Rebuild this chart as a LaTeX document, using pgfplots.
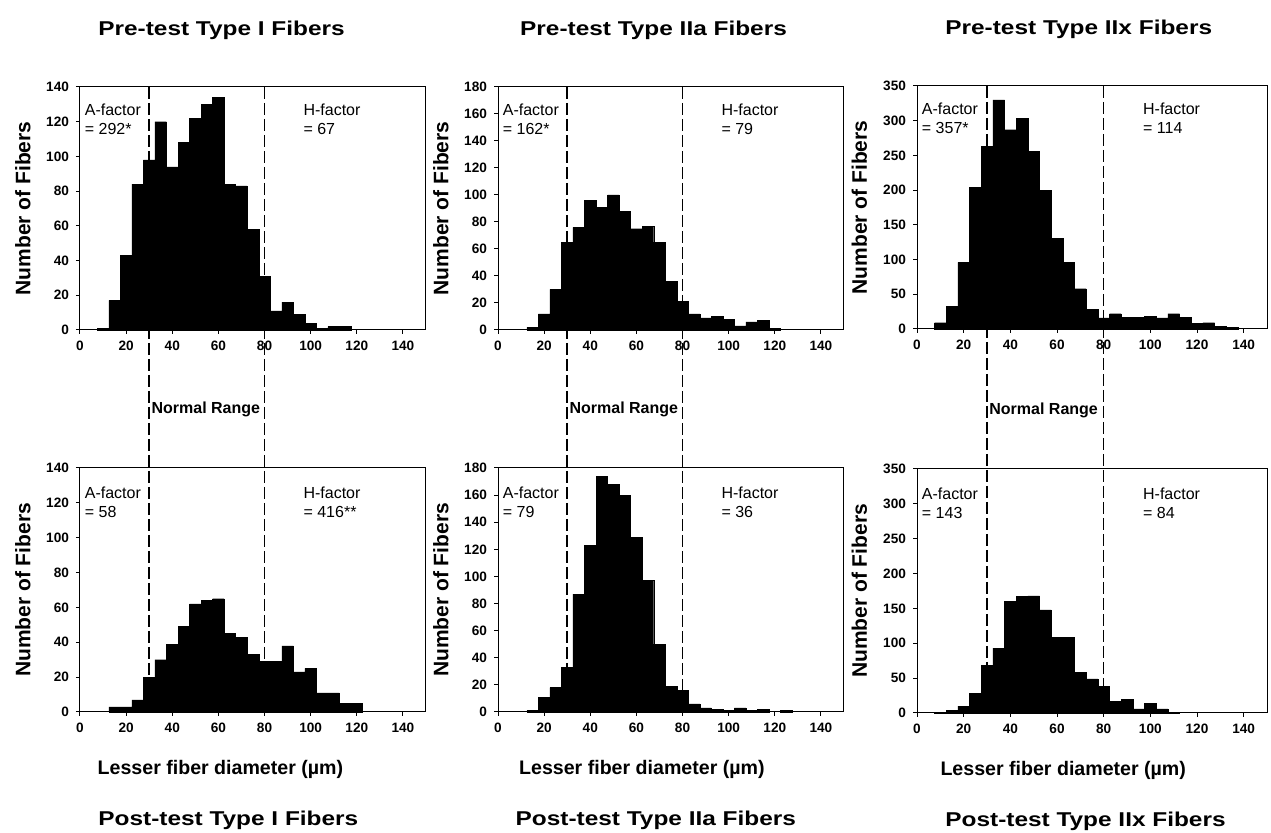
\documentclass[border=0pt]{standalone}
\usepackage{fontspec}
\setmainfont{Liberation Sans}
\newfontfamily\wide[FakeStretch=1.22]{Liberation Sans}
\usepackage{pgfplots}
\pgfplotsset{compat=1.18}

\pgfplotsset{
  hist/.style={
    scale only axis, width=173pt, height=121.5pt,
    xmin=0, xmax=150, ymin=0,
    xtick={0,20,...,140},
    tick align=outside, major tick length=2pt, tick pos=left,
    axis line style={line width=0.5pt},
    tick style={black, line width=0.5pt},
    ticklabel style={font=\fontsize{6.8}{8}\selectfont\bfseries},
    /pgf/number format/assume math mode=true,
    clip=false,
    every axis y label/.style={at={(axis description cs:-0.165,0.5)}, rotate=90, anchor=center,
      font=\fontsize{10.5}{12}\selectfont\bfseries},
  },
  bars/.style={ybar, bar width=5, fill=black, draw=black, line width=0.2pt},
}
\tikzset{
  nr/.style={dash pattern=on 6pt off 2pt, line width=0.8pt},
  ann/.style={anchor=north west, inner sep=0pt, align=left, font=\fontsize{8}{9.5}\selectfont},
  ttl/.style={anchor=west, inner sep=0pt, font=\wide\fontsize{10}{12}\selectfont\bfseries},
  xl/.style={anchor=west, inner sep=0pt, font=\fontsize{9.8}{11}\selectfont\bfseries},
  rng/.style={anchor=west, inner sep=1pt, font=\fontsize{8}{9}\selectfont\bfseries},
}

\begin{document}
\begin{tikzpicture}
\path[use as bounding box] (0,0) rectangle (635.5pt,416.5pt);

% ---- pre-test row (the dashed normal-range lines run down through the post-test row)
\begin{axis}[hist, at={(40pt,251.5pt)}, anchor=south west, ymax=140, ytick={0,20,...,140},
  ylabel={Number of Fibers}]
  \draw[nr] (rel axis cs:0.2,1) -- (rel axis cs:0.2,-1.572);
  \draw[nr] (rel axis cs:0.5333,1) -- (rel axis cs:0.5333,-1.572);
  \addplot[bars] coordinates {(10,1)(15,17)(20,43)(25,84)(30,98)(35,120)(40,94)(45,108)(50,122)
    (55,130)(60,134)(65,84)(70,83)(75,58)(80,31)(85,11)(90,16)(95,9)(100,4)(105,1)(110,2)(115,2)};
  \node[ann] at (rel axis cs:0.013,0.93) {A-factor\\= 292*};
  \node[ann] at (rel axis cs:0.645,0.93) {H-factor\\= 67};
  \node[ttl] at (rel axis cs:0.052,1.235) {Pre-test Type I Fibers};
\end{axis}

\begin{axis}[hist, at={(249pt,251.5pt)}, anchor=south west, ymax=180, ytick={0,20,...,180},
  ylabel={Number of Fibers}]
  \draw[nr] (rel axis cs:0.2,1) -- (rel axis cs:0.2,-1.572);
  \draw[nr] (rel axis cs:0.5333,1) -- (rel axis cs:0.5333,-1.572);
  \addplot[bars] coordinates {(15,2)(20,12)(25,30)(30,65)(35,76)(40,96)(45,91)(50,100)(55,88)
    (60,75)(65,77)(70,65)(75,36)(80,21)(85,12)(90,9)(95,10)(100,8)(105,3)(110,6)(115,7)(120,1)};
  \node[ann] at (rel axis cs:0.013,0.93) {A-factor\\= 162*};
  \node[ann] at (rel axis cs:0.645,0.93) {H-factor\\= 79};
  \node[ttl] at (rel axis cs:0.063,1.235) {Pre-test Type IIa Fibers};
\end{axis}

\begin{axis}[hist, width=175pt, at={(458.5pt,252pt)}, anchor=south west, ymax=350, ytick={0,50,...,350},
  ylabel={Number of Fibers}]
  \draw[nr] (rel axis cs:0.2,1) -- (rel axis cs:0.2,-1.58);
  \draw[nr] (rel axis cs:0.5333,1) -- (rel axis cs:0.5333,-1.58);
  \addplot[bars] coordinates {(10,9)(15,33)(20,96)(25,204)(30,263)(35,330)(40,287)(45,303)(50,256)
    (55,200)(60,131)(65,96)(70,58)(75,28)(80,16)(85,22)(90,17)(95,17)(100,18)(105,16)(110,22)
    (115,17)(120,8)(125,9)(130,4)(135,2)};
  \node[ann] at (rel axis cs:0.013,0.93) {A-factor\\= 357*};
  \node[ann] at (rel axis cs:0.645,0.93) {H-factor\\= 114};
  \node[ttl] at (rel axis cs:0.08,1.235) {Pre-test Type IIx Fibers};
\end{axis}

% ---- post-test row
\begin{axis}[hist, height=122pt, at={(40pt,60.5pt)}, anchor=south west, ymax=140, ytick={0,20,...,140},
  ylabel={Number of Fibers}]
  \addplot[bars] coordinates {(15,3)(20,3)(25,7)(30,20)(35,30)(40,39)(45,49)(50,62)(55,64)(60,65)
    (65,45)(70,43)(75,33)(80,29)(85,29)(90,38)(95,23)(100,25)(105,11)(110,11)(115,5)(120,5)};
  \node[ann] at (rel axis cs:0.013,0.925) {A-factor\\= 58};
  \node[ann] at (rel axis cs:0.645,0.925) {H-factor\\= 416**};
  \node[rng] at (rel axis cs:0.2,1.24) {Normal Range};
  \node[xl] at (rel axis cs:0.05,-0.235) {Lesser fiber diameter (µm)};
  \node[ttl] at (rel axis cs:0.052,-0.443) {Post-test Type I Fibers};
\end{axis}

\begin{axis}[hist, height=122pt, at={(249pt,60.5pt)}, anchor=south west, ymax=180, ytick={0,20,...,180},
  ylabel={Number of Fibers}]
  \addplot[bars] coordinates {(15,1)(20,11)(25,18)(30,33)(35,87)(40,123)(45,174)(50,168)(55,160)
    (60,129)(65,97)(70,50)(75,19)(80,16)(85,6)(90,3)(95,2)(100,1)(105,3)(110,1)(115,2)(125,1)};
  \node[ann] at (rel axis cs:0.013,0.925) {A-factor\\= 79};
  \node[ann] at (rel axis cs:0.645,0.925) {H-factor\\= 36};
  \node[rng] at (rel axis cs:0.2,1.24) {Normal Range};
  \node[xl] at (rel axis cs:0.06,-0.235) {Lesser fiber diameter (µm)};
  \node[ttl] at (rel axis cs:0.05,-0.443) {Post-test Type IIa Fibers};
\end{axis}

\begin{axis}[hist, width=175pt, height=122pt, at={(458.5pt,60pt)}, anchor=south west, ymax=350,
  ytick={0,50,...,350}, ylabel={Number of Fibers}]
  \addplot[bars] coordinates {(10,1)(15,4)(20,10)(25,28)(30,68)(35,93)(40,160)(45,167)(50,168)
    (55,148)(60,109)(65,109)(70,58)(75,49)(80,38)(85,17)(90,20)(95,6)(100,14)(105,6)(110,1)};
  \node[ann] at (rel axis cs:0.013,0.925) {A-factor\\= 143};
  \node[ann] at (rel axis cs:0.645,0.925) {H-factor\\= 84};
  \node[rng] at (rel axis cs:0.2,1.24) {Normal Range};
  \node[xl] at (rel axis cs:0.066,-0.235) {Lesser fiber diameter (µm)};
  \node[ttl] at (rel axis cs:0.08,-0.443) {Post-test Type IIx Fibers};
\end{axis}
\end{tikzpicture}
\end{document}
